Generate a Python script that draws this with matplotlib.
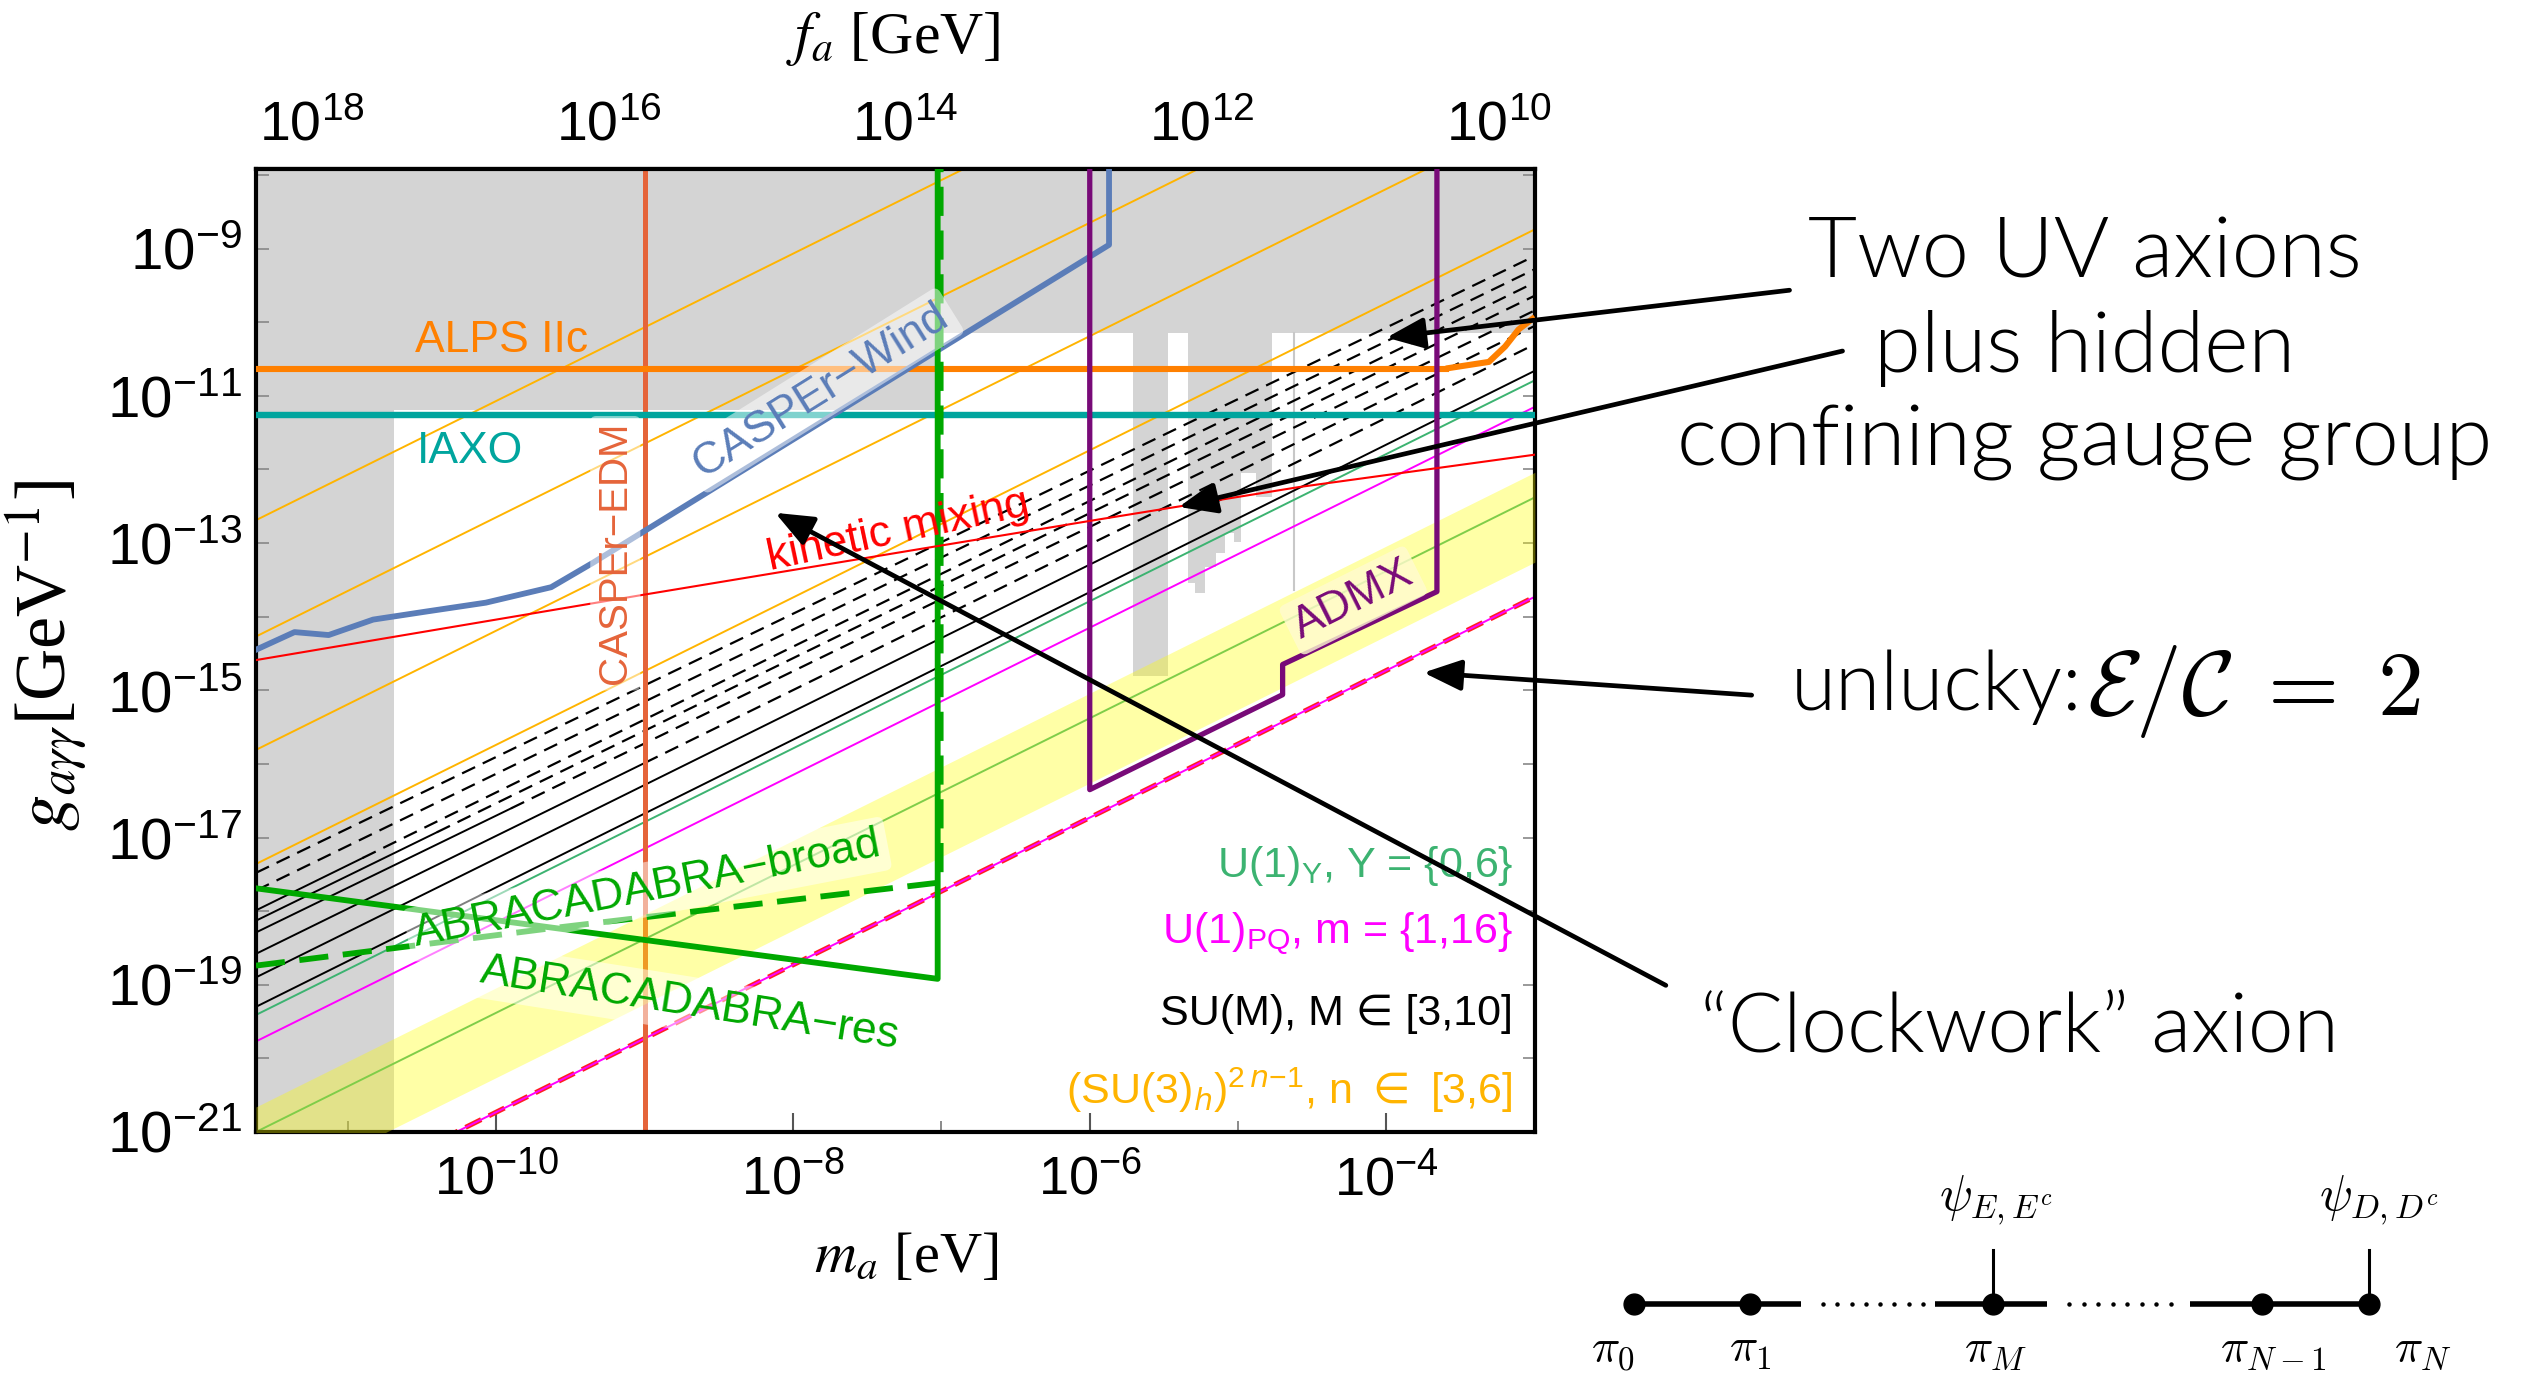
import numpy as np
import matplotlib.pyplot as plt
from matplotlib import font_manager

# ---- axis ranges (log10) ----
LOG_M_MIN, LOG_M_MAX = -11.62, -3.0
LOG_G_MIN, LOG_G_MAX = -21.0, -7.92
FA_TIMES_MA = 5.7e6  # f_a [GeV] * m_a [eV]

# ---- existing bounds (gray) ----
CAST_LOG_G = -10.15
LOWMASS_LOG_G = -11.2
LOWMASS_LOG_M = -7.03
SUPERRAD_LOG_M = -10.69
# haloscope columns: (log m left, log m right, log g bottom)
HALO_COLS = [(-5.71, -5.47, -14.81)]
HALO_JAG_M = [-5.34, -5.29, -5.22, -5.15, -5.09, -5.03, -4.98, -4.88, -4.77]
HALO_JAG_G = [-13.54, -13.68, -13.32, -13.14, -12.87, -12.98, -12.05, -12.37]
HALO_LINE = (-4.62, -13.64)

# ---- projected sensitivities ----
ALPS_LOG_G = -10.63
ALPS_TAIL_M = [-3.60, -3.31, -3.20, -3.11, -3.0]
ALPS_TAIL_G = [-10.63, -10.54, -10.33, -10.10, -9.93]
IAXO_LOG_G = -11.26
CASPER_EDM_LOG_M = -9.0
CASPER_WIND_M = [-11.62, -11.36, -11.13, -10.83, -10.47, -10.07, -9.63, -9.35, -5.87, -5.87]
CASPER_WIND_G = [-14.45, -14.21, -14.25, -14.04, -13.93, -13.81, -13.60, -13.27, -8.95, -7.92]
ABRA_RES_M = [-11.62, -7.025, -7.025]
ABRA_RES_G = [-17.69, -18.92, -7.92]
ABRA_BROAD_M = [-11.62, -9.66, -7.005, -7.005]
ABRA_BROAD_G = [-18.74, -18.24, -17.61, -7.92]
ADMX_M = [-6.00, -6.00, -4.70, -4.70, -3.66, -3.66]
ADMX_G = [-7.92, -16.35, -15.06, -14.65, -13.66, -7.92]
KIN_MIX_M = [-11.62, -9.0, -5.94, -4.59, -3.0]
KIN_MIX_G = [-14.59, -13.70, -12.68, -12.24, -11.80]

# ---- model lines: log10(g) = log10(m) + c ----
QCD_BAND_C = (-10.26, -9.04)
U1Y_C = [-9.38, -7.79]
U1PQ_C = [-10.73, -8.15]
UNLUCKY_C = -10.73
CLOCK_C = [-1.07, -2.65, -4.19, -5.74]
# SU(M): offset at left / right edge, and log m where solid turns dashed
SUM_CL = [-5.86, -6.10, -6.37, -6.51, -6.67, -6.96, -7.28, -7.68]
SUM_CR = [-6.10, -6.28, -6.46, -6.64, -6.84, -7.05, -7.30, -7.66]
SUM_SOLID_TO = [-11.62, -11.62, -10.9, -10.4, -9.9, -9.0, -4.8, -3.0]

# ---- arrows: head (log m, log g) and tail (figure fraction) ----
ARROW_HEADS = [(-4.00, -10.21), (-5.40, -12.51), (-3.75, -14.76), (-8.12, -12.59)]
ARROW_TAILS = [(0.709, 0.790), (0.730, 0.746), (0.694, 0.497), (0.660, 0.287)]

# ---- clockwork chain ----
NODE_X = [1634, 1750, 1993, 2262, 2369]
PI_LABEL_X = [1613, 1750, 1996, 2273, 2423]
PI_LABELS = [r'$\pi_0$', r'$\pi_1$', r'$\pi_M$', r'$\pi_{N-1}$', r'$\pi_N$']
PSI_NODES = [2, 4]
PSI_LABEL_X = [1996, 2379]
PSI_LABELS = [r'$\psi_{E,E^c}$', r'$\psi_{D,D^c}$']

GRAY = '#d4d4d4'
C_ALPS = '#ff8000'
C_IAXO = '#00a59e'
C_EDM = '#e5643a'
C_WIND = '#5b7db8'
C_ABRA = '#00a800'
C_ADMX = '#780a78'
C_U1Y = '#3cb371'
C_PQ = '#ff00ff'
C_CLOCK = '#ffb400'

SANS = ['Liberation Sans', 'DejaVu Sans']


def pick_light():
    for fam in ('Lato', 'Roboto', 'Open Sans', 'Noto Sans'):
        for f in font_manager.fontManager.ttflist:
            w = f.weight
            if isinstance(w, str):
                w = font_manager.weight_dict.get(w, 400)
            if f.name == fam and w == 300 and f.style == 'normal':
                return fam, 300
    return 'Liberation Sans', 'normal'


LIGHT_FAMILY, LIGHT_WEIGHT = pick_light()


def p(v):
    return 10.0 ** np.asarray(v, dtype=float)


def model_line(c, lm0=LOG_M_MIN, lm1=LOG_M_MAX):
    lm = np.array([lm0, lm1])
    return p(lm), p(lm + c)


fig = plt.figure(figsize=(25.24, 13.82), dpi=100)
ax = fig.add_axes([0.1014, 0.1809, 0.5067, 0.6968])
ax.set_xscale('log')
ax.set_yscale('log')
ax.set_xlim(p(LOG_M_MIN), p(LOG_M_MAX))
ax.set_ylim(p(LOG_G_MIN), p(LOG_G_MAX))


# gray exclusions
def rect(lm0, lm1, lg0, lg1):
    ax.fill_between(p([lm0, lm1]), p(lg0), p(lg1), color=GRAY, lw=0, zorder=0.5)


rect(LOG_M_MIN, LOG_M_MAX, CAST_LOG_G, LOG_G_MAX)
rect(LOG_M_MIN, LOWMASS_LOG_M, LOWMASS_LOG_G, CAST_LOG_G)
rect(LOG_M_MIN, SUPERRAD_LOG_M, LOG_G_MIN, LOWMASS_LOG_G)
for lm0, lm1, lg in HALO_COLS:
    rect(lm0, lm1, lg, CAST_LOG_G)
ax.fill_between(p(HALO_JAG_M), p(HALO_JAG_G + [HALO_JAG_G[-1]]), p(CAST_LOG_G),
                step='post', color=GRAY, lw=0, zorder=0.5)
ax.plot(p([HALO_LINE[0]] * 2), p([HALO_LINE[1], CAST_LOG_G]), color='#c8c8c8', lw=1.5, zorder=0.6)

# model lines
for c in CLOCK_C:
    ax.plot(*model_line(c), color=C_CLOCK, lw=1.4, zorder=2)
span = LOG_M_MAX - LOG_M_MIN
for cl, cr, t in zip(SUM_CL, SUM_CR, SUM_SOLID_TO):
    ct = cl + (cr - cl) * (t - LOG_M_MIN) / span
    if t > LOG_M_MIN:
        ax.plot(p([LOG_M_MIN, t]), p([LOG_M_MIN + cl, t + ct]), color='black', lw=1.4, zorder=2)
    if t < LOG_M_MAX:
        ax.plot(p([t, LOG_M_MAX]), p([t + ct, LOG_M_MAX + cr]), color='black', lw=1.6,
                dashes=(6.5, 3.8), zorder=2)
for c in U1Y_C:
    ax.plot(*model_line(c), color=C_U1Y, lw=1.4, zorder=2)
for c in U1PQ_C:
    ax.plot(*model_line(c), color=C_PQ, lw=1.4, zorder=2.2)
ax.plot(*model_line(UNLUCKY_C), color='#ff2020', lw=3.6, dashes=(3.5, 1.7), zorder=2.1)

# experiments
ax.axvline(p(CASPER_EDM_LOG_M), color=C_EDM, lw=3.6, zorder=2.5)
lm_band = np.array([LOG_M_MIN, LOG_M_MAX])
ax.fill_between(p(lm_band), p(lm_band + QCD_BAND_C[0]), p(lm_band + QCD_BAND_C[1]),
                color='#ffff00', alpha=0.35, lw=0, zorder=3)
ax.axhline(p(ALPS_LOG_G), xmax=(ALPS_TAIL_M[0] - LOG_M_MIN) / span,
           color=C_ALPS, lw=4.4, zorder=4)
ax.plot(p(ALPS_TAIL_M), p(ALPS_TAIL_G), color=C_ALPS, lw=4.4, zorder=4, solid_capstyle='butt')
ax.axhline(p(IAXO_LOG_G), color=C_IAXO, lw=4.6, zorder=4)
ax.plot(p(CASPER_WIND_M), p(CASPER_WIND_G), color=C_WIND, lw=4.2, zorder=4)
ax.plot(p(ABRA_RES_M), p(ABRA_RES_G), color=C_ABRA, lw=4.2, zorder=4)
ax.plot(p(ABRA_BROAD_M), p(ABRA_BROAD_G), color=C_ABRA, lw=4.2, dashes=(5, 2.5), zorder=4)
ax.plot(p(ADMX_M), p(ADMX_G), color=C_ADMX, lw=3.8, zorder=4)
ax.plot(p(KIN_MIX_M), p(KIN_MIX_G), color='#ff0000', lw=1.5, zorder=4)

# in-plot labels
lab = dict(transform=ax.transAxes, ha='center', va='center', rotation_mode='anchor',
           family=SANS, fontsize=32, zorder=6)
wbox = dict(facecolor='white', alpha=0.5, edgecolor='none', boxstyle='round,pad=0.15')
ax.text(0.192, 0.822, 'ALPS IIc', color=C_ALPS, **lab)
ax.text(0.167, 0.707, 'IAXO', color=C_IAXO, **lab)
ax.text(0.281, 0.601, 'CASPEr\u2212EDM', color=C_EDM, rotation=90, bbox=wbox,
        **{**lab, 'fontsize': 29})
ax.text(0.442, 0.770, 'CASPEr\u2212Wind', color=C_WIND, rotation=32, bbox=wbox, **lab)
ax.text(0.502, 0.624, 'kinetic mixing', color='#ff0000', rotation=12, **lab)
ax.text(0.306, 0.252, 'ABRACADABRA\u2212broad', color=C_ABRA, rotation=11, bbox=wbox, **lab)
ax.text(0.339, 0.133, 'ABRACADABRA\u2212res', color=C_ABRA, rotation=-9, bbox=wbox, **lab)
ax.text(0.858, 0.552, 'ADMX', color=C_ADMX, rotation=26.5,
        bbox=dict(facecolor='#fffbd0', alpha=0.8, edgecolor='none', boxstyle='round,pad=0.15'), **lab)

leg = dict(transform=ax.transAxes, ha='right', va='center', family=SANS, fontsize=31, zorder=6)
ax.text(0.983, 0.276, r'U(1)$_\mathregular{Y}$, Y = {0,6}', color=C_U1Y, **leg)
ax.text(0.983, 0.206, r'U(1)$_\mathregular{PQ}$, m = {1,16}', color=C_PQ, **leg)
ax.text(0.983, 0.123, 'SU(M), M \u2208 [3,10]', color='black', **leg)
ax.text(0.983, 0.043, r'(SU(3)$_{h}$)$^{\mathregular{2}\,n\mathregular{-1}}$, n $\in$ [3,6]',
        color=C_CLOCK, math_fontfamily='dejavusans', **leg)

# ticks
ax.set_xticks(p([-10, -8, -6, -4]), [r'$\mathregular{10^{-%d}}$' % k for k in (10, 8, 6, 4)])
ax.set_xticks(p([-11, -9, -7, -5, -3]), minor=True)
ax.set_xticklabels([], minor=True)
ax.set_yticks(p([-9, -11, -13, -15, -17, -19, -21]),
              [r'$\mathregular{10^{-%d}}$' % k for k in (9, 11, 13, 15, 17, 19, 21)])
ax.set_yticks(p([-8, -10, -12, -14, -16, -18, -20]), minor=True)
ax.set_yticklabels([], minor=True)
for lbl in ax.get_xticklabels() + ax.get_yticklabels():
    lbl.set_family(SANS)
ax.tick_params(axis='x', which='major', direction='in', length=14, width=1.5, color='#555555',
               labelsize=39, pad=16)
ax.tick_params(axis='x', which='minor', direction='in', length=8, width=1.2, color='#777777')
ax.tick_params(axis='y', which='both', direction='in', right=True, length=9, width=1.2,
               color='#888888', labelsize=42, pad=10)
for s in ax.spines.values():
    s.set_linewidth(3)

sec = ax.secondary_xaxis('top', functions=(lambda m: FA_TIMES_MA / np.asarray(m),
                                           lambda f: FA_TIMES_MA / np.asarray(f)))
sec.set_xticks(p([18, 16, 14, 12, 10]), [r'$\mathregular{10^{%d}}$' % k for k in (18, 16, 14, 12, 10)])
sec.set_xticks(p([17, 15, 13, 11]), minor=True)
sec.set_xticklabels([], minor=True)
for lbl in sec.get_xticklabels():
    lbl.set_family(SANS)
sec.tick_params(axis='x', which='major', direction='in', length=16, width=2.5, labelsize=40, pad=12)
sec.tick_params(axis='x', which='minor', direction='in', length=9, width=1.5)
sec.spines['top'].set_linewidth(3)

# axis titles
fig.text(0.359, 0.090, r'$m_a$ [eV]', family='Liberation Serif', math_fontfamily='stix',
         fontsize=42, ha='center', va='center')
fig.text(0.354, 0.972, r'$f_a$ [GeV]', family='Liberation Serif', math_fontfamily='stix',
         fontsize=43, ha='center', va='center')
fig.text(0.019, 0.526, r'$g_{a\gamma\gamma}$[GeV$^{-1}$]', family='Liberation Serif',
         math_fontfamily='stix', fontsize=52, rotation=90, ha='center', va='center')

# annotations
for (hm, hg), tail in zip(ARROW_HEADS, ARROW_TAILS):
    ax.annotate('', xy=(p(hm), p(hg)), xycoords='data', xytext=tail, textcoords='figure fraction',
                annotation_clip=False, zorder=8,
                arrowprops=dict(arrowstyle='-|>,head_length=1.1,head_width=0.45', color='black',
                                lw=3.4, mutation_scale=21, shrinkA=0, shrinkB=0))
ann = dict(family=LIGHT_FAMILY, weight=LIGHT_WEIGHT, ha='center', va='center')
fig.text(0.826, 0.748, 'Two UV axions\nplus hidden\nconfining gauge group', linespacing=1.27,
         fontsize=61, **ann)
fig.text(0.7095, 0.503, 'unlucky:', family=LIGHT_FAMILY, weight=LIGHT_WEIGHT, fontsize=59,
         ha='left', va='center')
fig.text(0.827, 0.500, r'$\mathcal{E}/\mathcal{C}\;=\;2$', math_fontfamily='cm', fontsize=66,
         ha='left', va='center')
fig.text(0.800, 0.255, '\u201cClockwork\u201d axion', fontsize=59, **ann)

# clockwork chain diagram (figure pixel frame)
ov = fig.add_axes([0, 0, 1, 1])
ov.set_xlim(0, 2524)
ov.set_ylim(1382, 0)
ov.axis('off')
Y0 = 1304
for a, b in [(1634, 1801), (1935, 2047), (2190, 2373)]:
    ov.plot([a, b], [Y0, Y0], color='black', lw=4, solid_capstyle='butt')
for a, b in [(1823, 1923), (2069, 2171)]:
    ov.plot(np.linspace(a, b, 8), [Y0] * 8, 'o', color='black', ms=2.2)
for i in PSI_NODES:
    ov.plot([NODE_X[i]] * 2, [Y0, 1250], color='black', lw=2.2)
ov.plot(NODE_X, [Y0] * len(NODE_X), 'o', color='black', ms=15)
for x, s in zip(PI_LABEL_X, PI_LABELS):
    ov.text(x, 1350, s, math_fontfamily='cm', fontsize=34, ha='center', va='center')
for x, s in zip(PSI_LABEL_X, PSI_LABELS):
    ov.text(x, 1200, s, math_fontfamily='cm', fontsize=35, ha='center', va='center')

fig.savefig('out.png', dpi=100)
